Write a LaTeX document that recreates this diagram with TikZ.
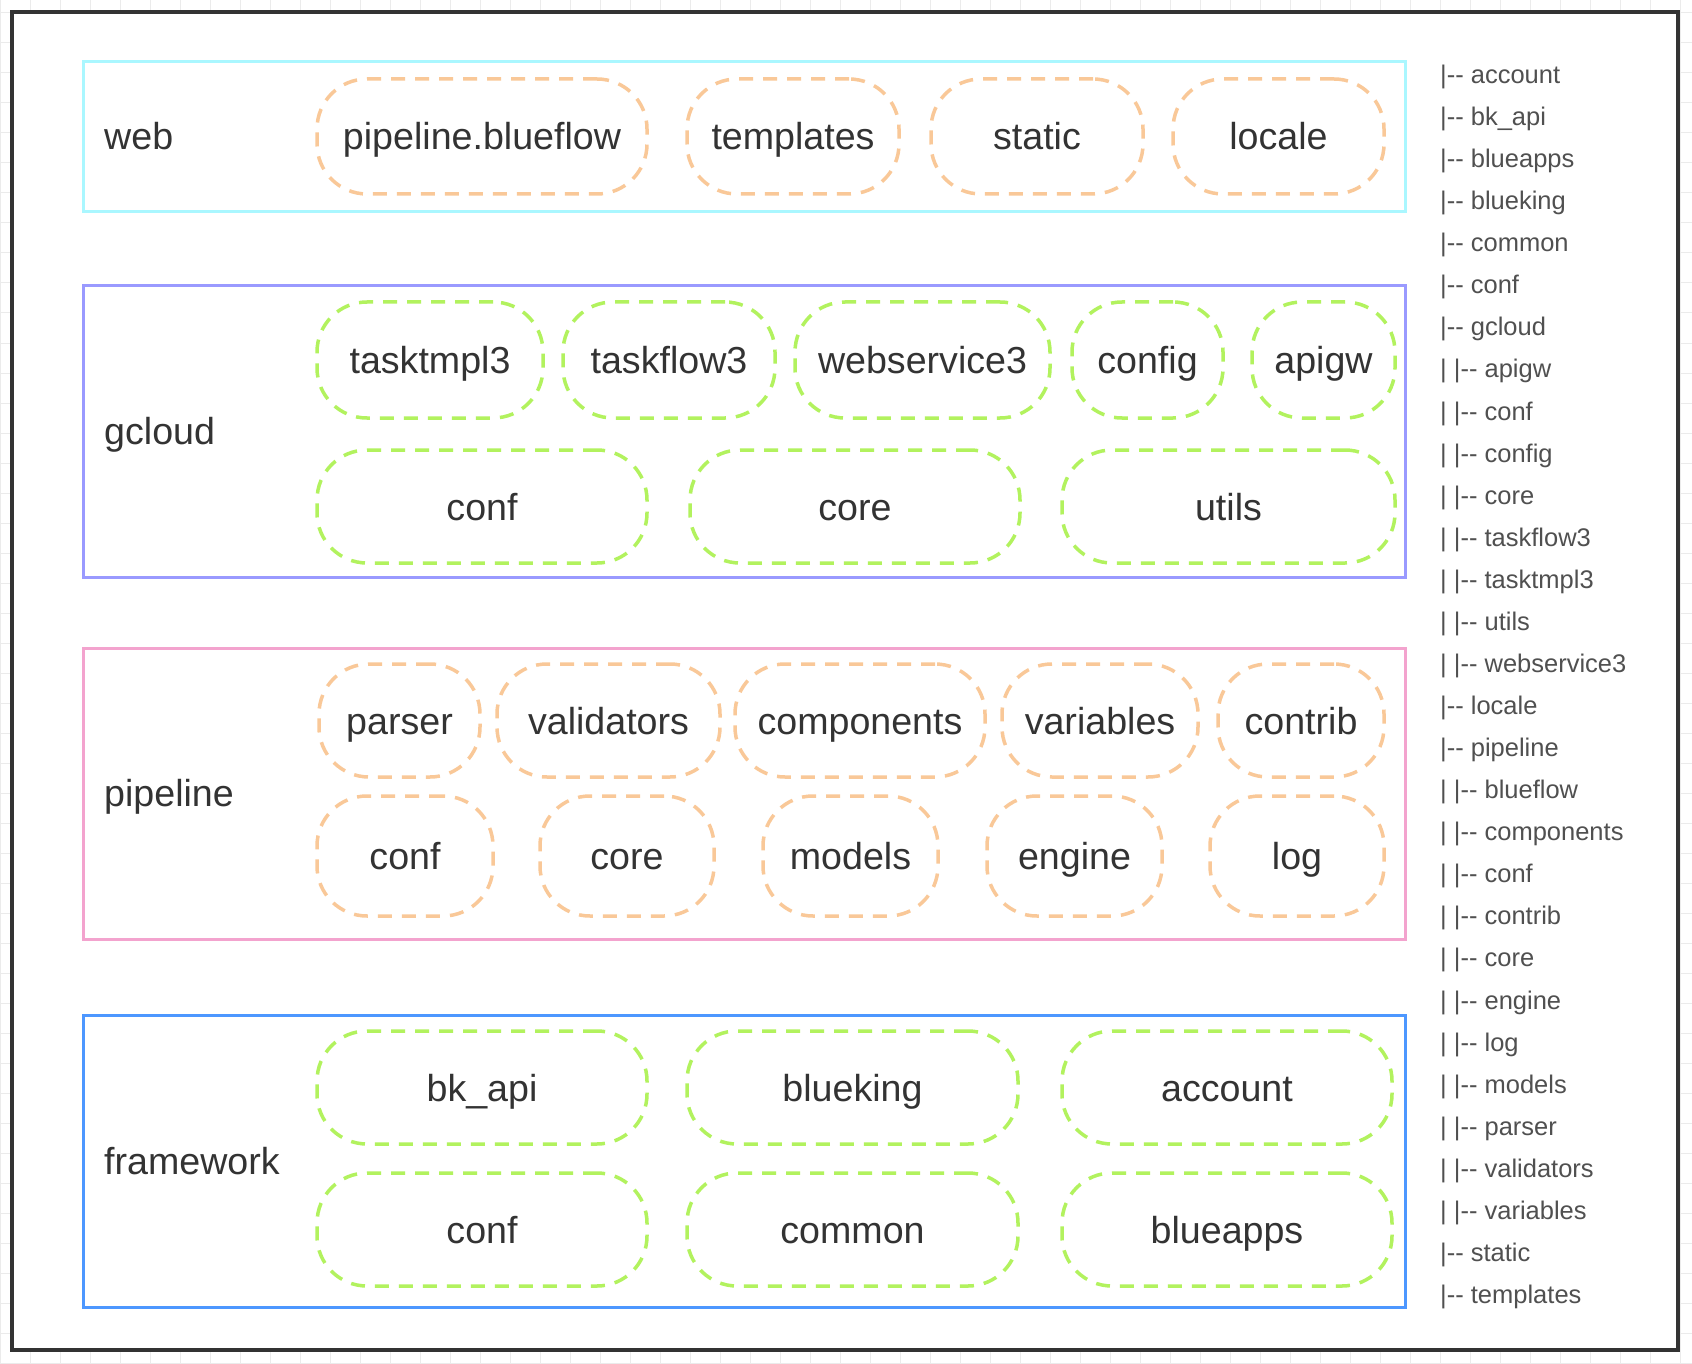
\documentclass[tikz,border=0pt]{standalone}
\usepackage{fontspec}
\setmainfont{Liberation Sans}
\definecolor{webcyan}{HTML}{AAF7FF}
\definecolor{gcloudblue}{HTML}{9A9AFF}
\definecolor{pipepink}{HTML}{F3A3CE}
\definecolor{fwblue}{HTML}{4D97FF}
\definecolor{modorange}{HTML}{F9C898}
\definecolor{modgreen}{HTML}{B2F25E}
\definecolor{txtgrey}{HTML}{333333}
\definecolor{treegrey}{HTML}{505050}
\definecolor{gridgrey}{HTML}{EBEBEB}
\newcommand{\tb}{|-{}-\ }

\begin{document}
\begin{tikzpicture}[x=1pt, y=-1pt, font=\fontsize{37.6}{45}\selectfont, text=txtgrey,
  layer/.style={draw, line width=3pt, minimum width=1322pt, inner sep=0pt},
  mod/.style={draw, line width=3.5pt, dash pattern=on 14pt off 10pt, rounded corners=50pt,
    inner sep=0pt, text height=28pt, text depth=1pt},
  omod/.style={mod, draw=modorange},
  gmod/.style={mod, draw=modgreen},
  wh/.style 2 args={minimum width=#1pt, minimum height=#2pt},
  lbl/.style={anchor=base west, inner sep=0pt},
  dir/.style={anchor=base west, inner sep=0pt, font=\fontsize{25.5}{30}\selectfont, text=treegrey},
  gridline/.style={draw=gridgrey, line width=1pt},
]
\useasboundingbox (0,0) rectangle (1692,1364);
%background grid and frame
\foreach \gx in {0,30,...,1680} \draw[gridline] (\gx,0) -- (\gx,1364);
\foreach \gy in {13,43,...,1363} \draw[gridline] (0,\gy) -- (1692,\gy);
\node[draw=txtgrey, fill=white, line width=3.5pt, inner sep=0pt, wh={1666}{1338}] (frame) at (845,681) {};

%web layer
\node[layer, draw=webcyan, minimum height=150pt] (web) at (744,137) {};
\node[lbl] (web-lbl) at (104,150) {web};
\node[omod, wh={330}{115}] (w-blueflow) at (482,136.5) {pipeline.blueflow};
\node[omod, wh={212}{115}] (w-templates) at (793,136.5) {templates};
\node[omod, wh={212}{115}] (w-static) at (1037,136.5) {static};
\node[omod, wh={211}{115}] (w-locale) at (1278.5,136.5) {locale};

%gcloud layer
\node[layer, draw=gcloudblue, minimum height=291pt] (gcloud) at (744,431.5) {};
\node[lbl] (gcloud-lbl) at (104,444) {gcloud};
\node[gmod, wh={226}{116}] (g-tasktmpl) at (430,360) {tasktmpl3};
\node[gmod, wh={212}{116}] (g-taskflow) at (669,360) {taskflow3};
\node[gmod, wh={255}{116}] (g-webservice) at (922.5,360) {webservice3};
\node[gmod, wh={151}{116}] (g-config) at (1147.5,360) {config};
\node[gmod, wh={143}{116}] (g-apigw) at (1323.5,360) {apigw};
\node[gmod, wh={330}{113}] (g-conf) at (482,506.5) {conf};
\node[gmod, wh={330}{113}] (g-core) at (855,506.5) {core};
\node[gmod, wh={333}{113}] (g-utils) at (1228.5,506.5) {utils};

%pipeline layer
\node[layer, draw=pipepink, minimum height=291pt] (pipeline) at (744,793.5) {};
\node[lbl] (pipeline-lbl) at (104,806) {pipeline};
\node[omod, wh={161}{113}] (p-parser) at (399.5,720.5) {parser};
\node[omod, wh={223}{113}] (p-validators) at (608.5,720.5) {validators};
\node[omod, wh={250}{113}] (p-components) at (860,720.5) {components};
\node[omod, wh={196}{113}] (p-variables) at (1100,720.5) {variables};
\node[omod, wh={166}{113}] (p-contrib) at (1301,720.5) {contrib};
\node[omod, wh={176}{120}] (p-conf) at (405,856) {conf};
\node[omod, wh={174}{120}] (p-core) at (627,856) {core};
\node[omod, wh={175}{120}] (p-models) at (850.5,856) {models};
\node[omod, wh={175}{120}] (p-engine) at (1074.5,856) {engine};
\node[omod, wh={174}{120}] (p-log) at (1297,856) {log};

%framework layer
\node[layer, draw=fwblue, minimum height=292pt] (framework) at (744,1161) {};
\node[lbl] (framework-lbl) at (104,1174) {framework};
\node[gmod, wh={330}{113}] (f-bkapi) at (482,1087.5) {bk\_api};
\node[gmod, wh={331}{113}] (f-blueking) at (852.5,1087.5) {blueking};
\node[gmod, wh={330}{113}] (f-account) at (1227,1087.5) {account};
\node[gmod, wh={330}{113}] (f-conf) at (482,1229.5) {conf};
\node[gmod, wh={331}{113}] (f-common) at (852.5,1229.5) {common};
\node[gmod, wh={330}{113}] (f-blueapps) at (1227,1229.5) {blueapps};

%directory tree
\foreach \entry [count=\i from 0] in {{\tb account}, {\tb bk\_api}, {\tb blueapps},
  {\tb blueking}, {\tb common}, {\tb conf}, {\tb gcloud}, {| \tb apigw}, {| \tb conf},
  {| \tb config}, {| \tb core}, {| \tb taskflow3}, {| \tb tasktmpl3}, {| \tb utils},
  {| \tb webservice3}, {\tb locale}, {\tb pipeline}, {| \tb blueflow},
  {| \tb components}, {| \tb conf}, {| \tb contrib}, {| \tb core}, {| \tb engine},
  {| \tb log}, {| \tb models}, {| \tb parser}, {| \tb validators},
  {| \tb variables}, {\tb static}, {\tb templates}}
\node[dir] (tree-\i) at (1440,{83.5+42.07*\i}) {\entry};
\end{tikzpicture}
\end{document}
